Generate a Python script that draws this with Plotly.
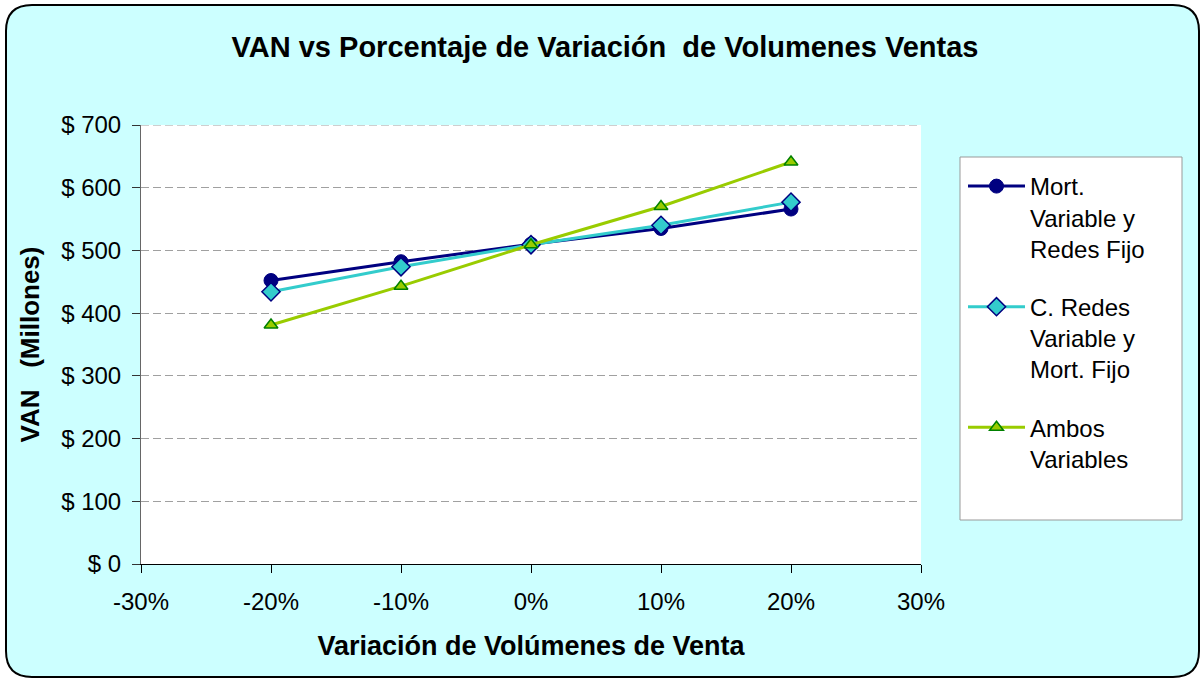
import plotly.graph_objects as go

# data
variacion = [-0.20, -0.10, 0.0, 0.10, 0.20]
mort_variable = [452, 482, 510, 535, 566]
redes_variable = [434, 474, 509, 540, 577]
ambos_variables = [381, 443, 509, 570, 641]

x_ticks = [-0.3, -0.2, -0.1, 0.0, 0.1, 0.2, 0.3]
x_labels = ["-30%", "-20%", "-10%", "0%", "10%", "20%", "30%"]
y_ticks = [0, 100, 200, 300, 400, 500, 600, 700]
y_labels = ["$ 0", "$ 100", "$ 200", "$ 300", "$ 400", "$ 500", "$ 600", "$ 700"]

series_names = [
    "Mort.<br>Variable y<br>Redes Fijo",
    "C. Redes<br>Variable y<br>Mort. Fijo",
    "Ambos<br>Variables",
]

W, H = 1204, 681
L, R, T, B = 141, 921, 125, 564  # plot area in pixels


def px(x):
    return (x - L) / (R - L)


def py(y):
    return (B - y) / (B - T)


def rounded_rect(x0, y0, x1, y1, r):
    """rounded rectangle path in paper coords from pixel corners"""
    pts = [
        f"M {px(x0 + r)},{py(y0)}",
        f"L {px(x1 - r)},{py(y0)}",
        f"Q {px(x1)},{py(y0)} {px(x1)},{py(y0 + r)}",
        f"L {px(x1)},{py(y1 - r)}",
        f"Q {px(x1)},{py(y1)} {px(x1 - r)},{py(y1)}",
        f"L {px(x0 + r)},{py(y1)}",
        f"Q {px(x0)},{py(y1)} {px(x0)},{py(y1 - r)}",
        f"L {px(x0)},{py(y0 + r)}",
        f"Q {px(x0)},{py(y0)} {px(x0 + r)},{py(y0)} Z",
    ]
    return " ".join(pts)


font = "Liberation Sans, Arial, sans-serif"

fig = go.Figure()
fig.add_trace(go.Scatter(
    x=variacion, y=mort_variable, name=series_names[0], legendgroup="a",
    mode="lines+markers", line=dict(color="#000080", width=3),
    marker=dict(symbol="circle", size=14, color="#000080",
                line=dict(color="#000080", width=1))))
fig.add_trace(go.Scatter(
    x=variacion, y=redes_variable, name=series_names[1], legendgroup="b",
    mode="lines+markers", line=dict(color="#33CCCC", width=3),
    marker=dict(symbol="diamond", size=14, color="#33CCCC",
                line=dict(color="#000080", width=1.5))))
fig.add_trace(go.Scatter(
    x=variacion, y=ambos_variables, name=series_names[2], legendgroup="c",
    mode="lines+markers", line=dict(color="#99CC00", width=3),
    marker=dict(symbol="triangle-up", size=12, color="#99CC00",
                line=dict(color="#008000", width=1.5))))

shapes = [
    # outer rounded frame
    dict(type="path", xref="paper", yref="paper", layer="below",
         path=rounded_rect(6, 5, 1199, 677, 26),
         fillcolor="#CCFFFF", line=dict(color="black", width=2)),
    # plot area
    dict(type="rect", xref="paper", yref="paper", layer="below",
         x0=0, x1=1, y0=0, y1=1, fillcolor="white", line=dict(width=0)),
    # legend box
    dict(type="rect", xref="paper", yref="paper", layer="below",
         x0=px(960), x1=px(1182), y0=py(520), y1=py(157),
         fillcolor="white", line=dict(color="#999999", width=1)),
    # top gridline (plotly drops the one at the range edge)
    dict(type="line", xref="paper", yref="y", layer="below",
         x0=0, x1=1, y0=y_ticks[-1], y1=y_ticks[-1],
         line=dict(color="#A0A0A0", width=1, dash="8px,4px")),
]

fig.update_layout(
    width=W, height=H,
    margin=dict(l=L, r=W - R, t=T, b=H - B),
    paper_bgcolor="white", plot_bgcolor="rgba(0,0,0,0)",
    font=dict(family=font, size=24, color="black"),
    title=dict(text="<b>VAN vs Porcentaje de Variación  de Volumenes Ventas</b>",
               x=0.5025, xanchor="center", y=1 - 47 / H, yanchor="middle",
               font=dict(size=29)),
    shapes=shapes,
    showlegend=True,
    legend=dict(x=px(963), y=py(164), xanchor="left", yanchor="top",
                bgcolor="rgba(0,0,0,0)", borderwidth=0, valign="top",
                itemwidth=57, tracegroupgap=24,
                font=dict(size=24, family=font)),
    xaxis=dict(range=[-0.3, 0.3], tickvals=x_ticks, ticktext=x_labels,
               showgrid=False, zeroline=False,
               showline=True, linecolor="black", linewidth=1,
               ticks="outside", ticklen=8, tickcolor="black",
               ticklabelstandoff=8,
               title=dict(text="<b>Variación de Volúmenes de Venta</b>",
                          font=dict(size=27), standoff=22)),
    yaxis=dict(range=[0, 700], tickvals=y_ticks, ticktext=y_labels,
               showgrid=True, gridcolor="#A0A0A0", griddash="8px,4px", gridwidth=1,
               zeroline=False, showline=True, linecolor="#666666", linewidth=1,
               ticks="outside", ticklen=8, tickcolor="#333333",
               ticklabelstandoff=6,
               title=dict(text="<b>VAN   (Millones)</b>",
                          font=dict(size=26), standoff=14)),
)

fig.write_html("out.html", config={"displayModeBar": False},
               post_script="document.body.style.margin='0';"
               "document.body.style.overflow='hidden';")
